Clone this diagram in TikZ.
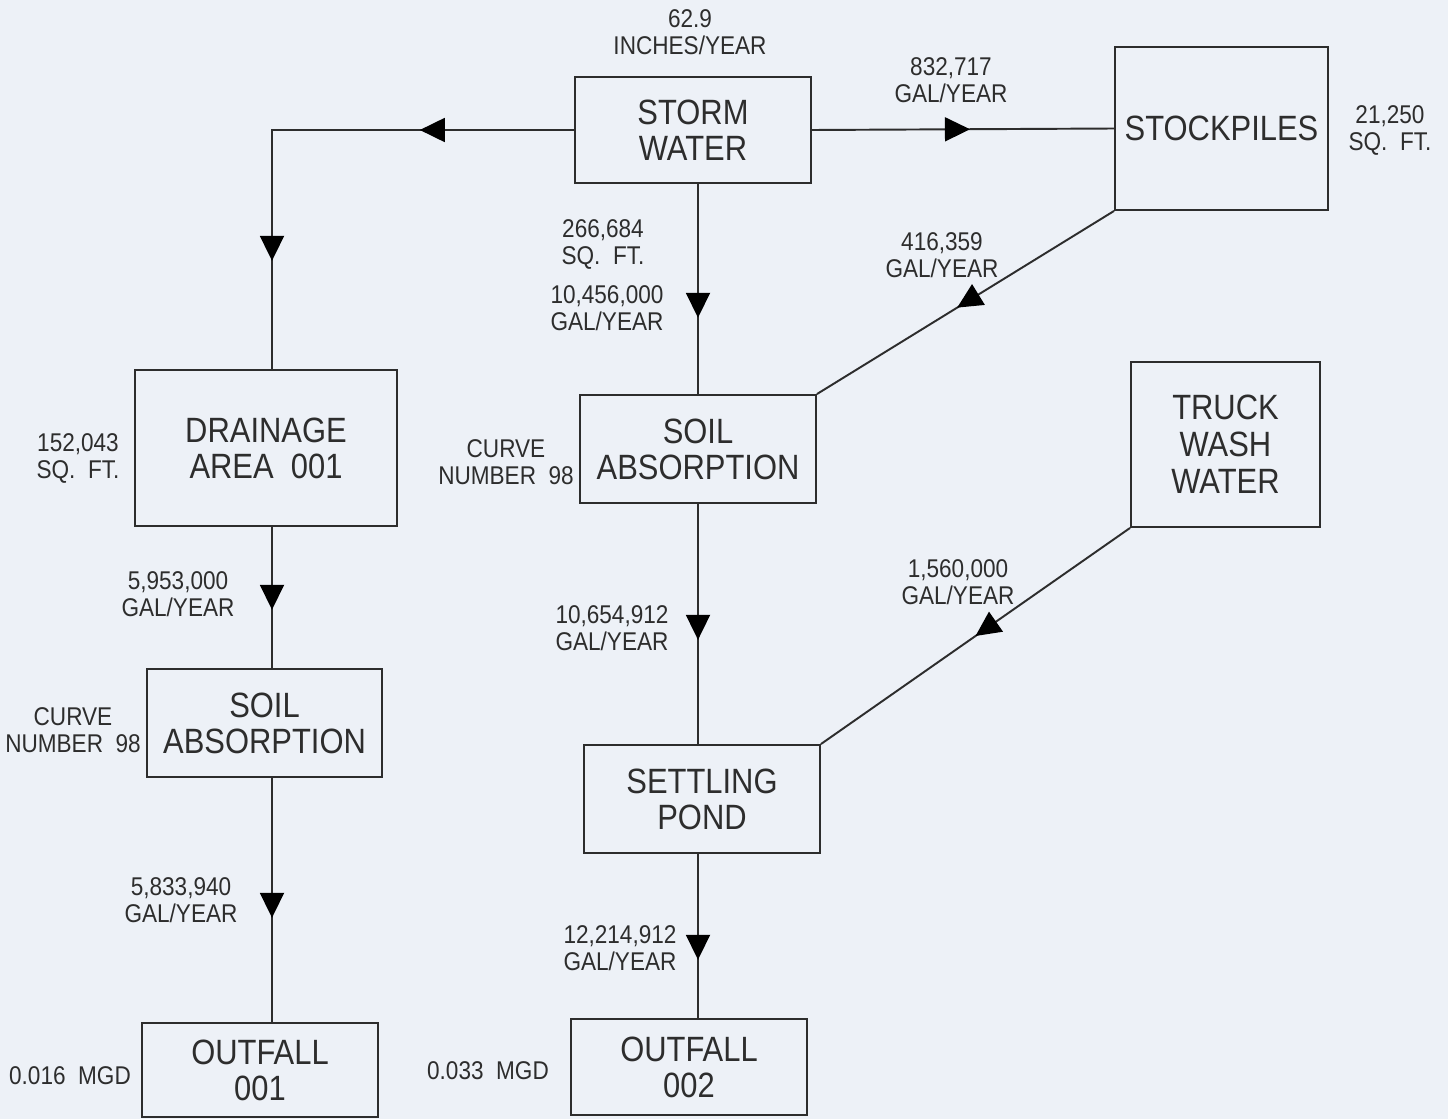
\documentclass[tikz,border=0pt]{standalone}
\usepackage{fontspec}
\setmainfont{Liberation Sans}[FakeStretch=0.88]
\usepackage{tikz}
\usetikzlibrary{arrows.meta,decorations.markings,calc}
\definecolor{paper}{RGB}{237,241,247}
\definecolor{ink}{RGB}{45,45,45}

\begin{document}
\begin{tikzpicture}[x=0.02cm, y=-0.02cm,
    box/.style={draw=ink, line width=1.1pt, align=center, text=ink, inner sep=0pt, font=\fontsize{20}{20.4}\selectfont},
    lbl/.style={align=center, text=ink, inner sep=0pt, font=\fontsize{14.6}{15.4}\selectfont},
    pipe/.style={draw=ink, line width=1.1pt},
    flow/.style={postaction={decorate, decoration={markings, mark=at position #1 with {\arrow{tri}}}}},
    tri/.tip={Triangle[length=0.5cm, width=0.48cm, color=black]}
]
\fill[paper] (0,0) rectangle (1448,1119);

% sources
\node[box, minimum width=4.72cm, minimum height=2.12cm] (sw) at (693,130) {STORM\\WATER};
\node[box, minimum width=4.26cm, minimum height=3.26cm] (stock) at (1221.5,128.5) {STOCKPILES};
\node[box, minimum width=3.78cm, minimum height=3.3cm, font=\fontsize{20}{21}\selectfont] (truck) at (1225.5,444.5) {TRUCK\\WASH\\WATER};

% left branch
\node[box, minimum width=5.24cm, minimum height=3.12cm] (drain) at (266,448) {DRAINAGE\\AREA~~001};
\node[box, minimum width=4.7cm, minimum height=2.16cm] (soil1) at (264.5,723) {SOIL\\ABSORPTION};
\node[box, minimum width=4.72cm, minimum height=1.88cm] (out1) at (260,1070) {OUTFALL\\001};

% centre branch
\node[box, minimum width=4.72cm, minimum height=2.16cm] (soil2) at (698,449) {SOIL\\ABSORPTION};
\node[box, minimum width=4.72cm, minimum height=2.16cm] (pond) at (702,799) {SETTLING\\POND};
\node[box, minimum width=4.72cm, minimum height=1.92cm] (out2) at (689,1067) {OUTFALL\\002};

\coordinate (corner) at (272,130);

% flows
\draw[pipe, flow=0.285, flow=0.80] (sw.west) -- (corner) -- (corner |- drain.north);
\draw[pipe, flow=0.523] (sw.east) -- (stock.west);
\draw[pipe, flow=0.637] (soil2.north |- sw.south) -- (soil2.north);
\draw[pipe, flow=0.528] (stock.south west) -- (soil2.north east);
\draw[pipe, flow=0.587] (corner |- drain.south) -- (corner |- soil1.north);
\draw[pipe, flow=0.573] (corner |- soil1.south) -- (corner |- out1.north);
\draw[pipe, flow=0.566] (soil2.south) -- (soil2.south |- pond.north);
\draw[pipe, flow=0.50] (truck.south west) -- (pond.north east);
\draw[pipe, flow=0.645] (soil2.south |- pond.south) -- (soil2.south |- out2.north);

% quantities
\node[lbl] (rain) at (690,32) {62.9\\INCHES/YEAR};
\node[lbl] (qstock) at (951,80) {832,717\\GAL/YEAR};
\node[lbl] (astock) at (1390,130) {21,250\\SQ.~~FT.};
\node[lbl] (asw) at (603,244) {266,684\\SQ.~~FT.};
\node[lbl] (qsw) at (607,308) {10,456,000\\GAL/YEAR};
\node[lbl] (qrun) at (942,255) {416,359\\GAL/YEAR};
\node[lbl] (adrain) at (78,458) {152,043\\SQ.~~FT.};
\node[lbl] (cn2) at (506,462) {CURVE\\NUMBER~~98};
\node[lbl] (qdrain) at (178,594) {5,953,000\\GAL/YEAR};
\node[lbl] (qsoil2) at (612,628) {10,654,912\\GAL/YEAR};
\node[lbl] (qtruck) at (958,582) {1,560,000\\GAL/YEAR};
\node[lbl] (cn1) at (73,730) {CURVE\\NUMBER~~98};
\node[lbl] (qsoil1) at (181,900) {5,833,940\\GAL/YEAR};
\node[lbl] (qpond) at (620,948) {12,214,912\\GAL/YEAR};
\node[lbl] (mgd1) at (70,1076) {0.016~~MGD};
\node[lbl] (mgd2) at (488,1071) {0.033~~MGD};

\end{tikzpicture}
\end{document}
